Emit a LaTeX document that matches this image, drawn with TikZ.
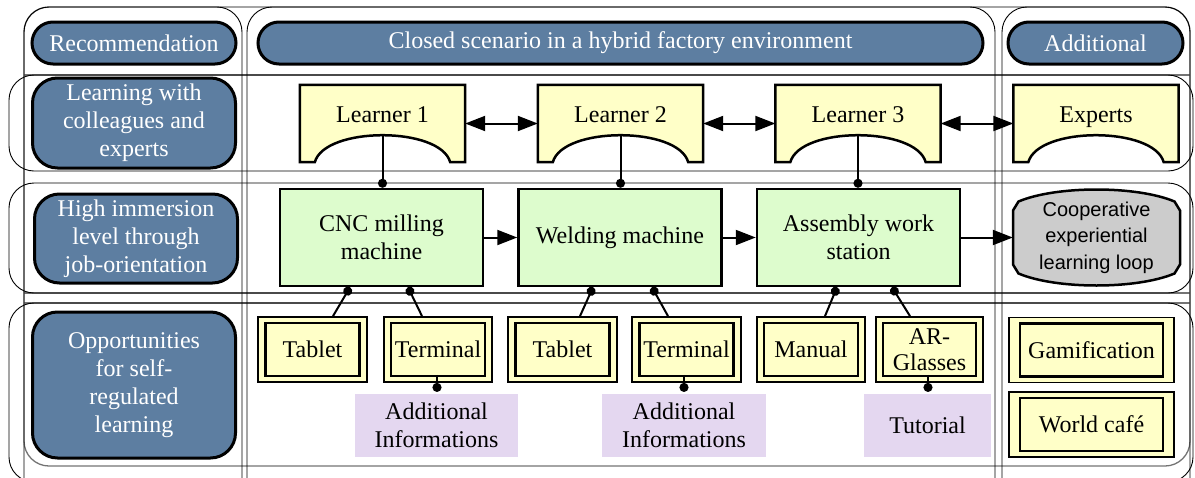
\documentclass[tikz,border=0pt]{standalone}
\usepackage{fontspec}
\setmainfont{Liberation Serif}
\newfontfamily\serf{Liberation Serif}
\newfontfamily\sansf{Liberation Sans}
\usetikzlibrary{arrows.meta,calc,backgrounds}
\definecolor{hblue}{RGB}{93,126,161}
\definecolor{hyellow}{RGB}{255,255,200}
\definecolor{hgreen}{RGB}{221,252,205}
\definecolor{hlav}{RGB}{228,215,240}
\definecolor{hgray}{RGB}{204,204,204}
\begin{document}
\begin{tikzpicture}[x=1pt,y=-1pt,
  font=\serf\fontsize{24}{28}\selectfont,
  pill/.style={draw=black, line width=3pt, fill=hblue, text=white, rounded corners=21pt, minimum height=42pt, inner sep=0pt},
  rowlbl/.style={draw=black, line width=3pt, fill=hblue, text=white, rounded corners=25pt, align=center, inner sep=0pt, minimum width=203pt},
  machine/.style={draw=black, line width=2.5pt, fill=hgreen, align=center, minimum width=203pt, minimum height=97pt, inner sep=0pt},
  outerbox/.style={draw=black, line width=1.8pt, fill=hyellow, minimum height=65pt, inner sep=0pt},
  innerbox/.style={draw=black, line width=2.8pt, minimum height=53pt, align=center, inner sep=0pt, font=\serf\fontsize{24}{26}\selectfont},
  lav/.style={fill=hlav, minimum height=63pt, align=center, inner sep=0pt},
  lrn/.style={minimum width=165pt, minimum height=77pt, inner sep=0pt, text height=17pt, text depth=20pt},
  lshape/.style={draw=black, line width=2.5pt, fill=hyellow},
  conn/.style={line width=2pt},
  dotend/.style={conn, -{Circle[length=9pt]}},
  dotstart/.style={conn, {Circle[length=9pt]}-},
  arr/.style={line width=2pt, -{Triangle[length=20pt,width=15pt]}},
  darr/.style={line width=2pt, {Triangle[length=20pt,width=15pt]}-{Triangle[length=20pt,width=15pt]}},
  gline/.style={draw=black!55, line width=1.3pt},
  cline/.style={draw=black, line width=0.9pt}
]
\useasboundingbox (0,0) rectangle (1195,477);

% ---- grid / swimlanes
\begin{scope}[on background layer]
  \clip (0,0) rectangle (1195,477);
  \draw[gline, rounded corners=25pt] (24,7) rectangle (1190,466);
  \draw[gline] (24,75) -- (1190,75);
  \draw[gline] (24,293) -- (1190,293);
  \draw[gline] (24,303) -- (1190,303);
  \draw[cline, rounded corners=25pt] (24,7) rectangle (242,510);
  \draw[cline, rounded corners=25pt] (247,7) rectangle (995,510);
  \draw[cline, rounded corners=25pt] (1002,7) rectangle (1190,510);
  \draw[cline, rounded corners=25pt] (9,75) rectangle (1193,171);
  \draw[cline, rounded corners=25pt] (9,183) rectangle (1193,293);
  \draw[cline, rounded corners=25pt] (9,303) rectangle (1193,482);
\end{scope}

% ---- header
\node[pill, minimum width=204pt] (hrec) at (134,43) {Recommendation};
\node[pill, minimum width=725pt] (hclo) at (620.5,43) {Closed scenario in a hybrid factory environment};
\node[pill, minimum width=175pt] (hadd) at (1095.5,43) {Additional};

% ---- row labels
\node[rowlbl, minimum height=90pt] (r1) at (134,123) {Learning with\\colleagues and\\experts};
\node[rowlbl, minimum height=89pt] (r2) at (136,238.5) {High immersion\\level through\\job-orientation};
\node[rowlbl, minimum height=146pt] (r3) at (134,385) {Opportunities\\for self-\\regulated\\learning};

% ---- learners
\node[lrn] (l1) at (382.5,123.5) {Learner 1};
\node[lrn] (l2) at (620.5,123.5) {Learner 2};
\node[lrn] (l3) at (858,123.5) {Learner 3};
\node[lrn] (ex) at (1096,123.5) {Experts};
\begin{scope}[on background layer]
  \foreach \n in {l1,l2,l3,ex}{
    \filldraw[lshape] (\n.north west) -- (\n.north east) -- (\n.south east)
      -- ($(\n.south east)+(-15,0)$)
      .. controls ($(\n.south east)+(-25,-36)$) and ($(\n.south west)+(25,-36)$) .. ($(\n.south west)+(15,0)$)
      -- (\n.south west) -- cycle;
  }
\end{scope}
\coordinate (l1p) at ($(l1.center)+(0,11.5)$);
\coordinate (l2p) at ($(l2.center)+(0,11.5)$);
\coordinate (l3p) at ($(l3.center)+(0,11.5)$);

\draw[darr] (l1.east) -- (l2.west);
\draw[darr] (l2.east) -- (l3.west);
\draw[darr] (l3.east) -- (ex.west);

% ---- machines
\node[machine] (cnc) at (381.5,237.5) {CNC milling\\machine};
\node[machine] (wel) at (620,237.5) {Welding machine};
\node[machine] (asm) at (858.5,237.5) {Assembly work\\station};
\node[minimum width=167pt, minimum height=97pt, inner sep=0pt, align=center, font=\sansf\fontsize{20}{26.5}\selectfont] (co) at (1096.5,237.5) {Cooperative\\experiential\\learning loop};
\begin{scope}[on background layer]
  \filldraw[draw=black, line width=2.5pt, fill=hgray]
    ($(co.center)+(-78,-36)$) .. controls ($(co.center)+(-40,-52)$) and ($(co.center)+(40,-52)$) .. ($(co.center)+(78,-36)$)
    -- ($(co.center)+(83.5,-27)$) -- ($(co.center)+(83.5,27)$) -- ($(co.center)+(78,36)$)
    .. controls ($(co.center)+(40,52)$) and ($(co.center)+(-40,52)$) .. ($(co.center)+(-78,36)$)
    -- ($(co.center)+(-83.5,27)$) -- ($(co.center)+(-83.5,-27)$) -- cycle;
\end{scope}

\draw[arr] (cnc.east) -- (wel.west);
\draw[arr] (wel.east) -- (asm.west);
\draw[arr] (asm.east) -- (co.west);

\draw[dotend] (l1p) -- (l1p |- cnc.north);
\draw[dotend] (l2p) -- (l2p |- wel.north);
\draw[dotend] (l3p) -- (l3p |- asm.north);

% ---- devices
\node[outerbox, minimum width=109pt] (t1o) at (312.5,349.5) {};
\node[innerbox, minimum width=94pt] (t1) at (t1o) {Tablet};
\node[outerbox, minimum width=108pt] (m1o) at (438,349.5) {};
\node[innerbox, minimum width=94pt] (m1) at (m1o) {Terminal};
\node[outerbox, minimum width=109pt] (t2o) at (562.5,349.5) {};
\node[innerbox, minimum width=94pt] (t2) at (t2o) {Tablet};
\node[outerbox, minimum width=109pt] (m2o) at (686.5,349.5) {};
\node[innerbox, minimum width=94pt] (m2) at (m2o) {Terminal};
\node[outerbox, minimum width=108pt] (mao) at (811,349.5) {};
\node[innerbox, minimum width=94pt] (ma) at (mao) {Manual};
\node[outerbox, minimum width=107pt] (aro) at (929.5,349.5) {};
\node[innerbox, minimum width=93pt] (ar) at (aro) {AR-\\Glasses};
\node[outerbox, minimum width=165pt] (gao) at (1091.5,350) {};
\node[innerbox, minimum width=143pt] (ga) at (gao) {Gamification};
\node[outerbox, minimum width=165pt] (wco) at (1091.5,424.5) {};
\node[innerbox, minimum width=143pt] (wc) at (wco) {World café};

\draw[dotstart] ($(cnc.south)+(-31.5,0)$) -- ($(t1o.north)+(20.5,0)$);
\draw[dotstart] ($(cnc.south)+(26.5,0)$) -- ($(m1o.north)+(-16,0)$);
\draw[dotstart] ($(wel.south)+(-27,0)$) -- ($(t2o.north)+(17.5,0)$);
\draw[dotstart] ($(wel.south)+(32,0)$) -- ($(m2o.north)+(-18.5,0)$);
\draw[dotstart] ($(asm.south)+(-21.5,0)$) -- ($(mao.north)+(14,0)$);
\draw[dotstart] ($(asm.south)+(33.5,0)$) -- ($(aro.north)+(-19.5,0)$);

% ---- extra info
\node[lav, minimum width=163pt] (i1) at (436.5,425.5) {Additional\\Informations};
\node[lav, minimum width=164pt] (i2) at (684,425.5) {Additional\\Informations};
\node[lav, minimum width=127pt] (tu) at (927.5,425.5) {Tutorial};

\draw[dotstart] ($(m1o.south)+(-1,0)$) -- ($(m1o.south)+(-1,0)$ |- i1.north);
\draw[dotstart] ($(m2o.south)+(-2.5,0)$) -- ($(m2o.south)+(-2.5,0)$ |- i2.north);
\draw[dotstart] ($(aro.south)+(-1.5,0)$) -- ($(aro.south)+(-1.5,0)$ |- tu.north);
\end{tikzpicture}
\end{document}
